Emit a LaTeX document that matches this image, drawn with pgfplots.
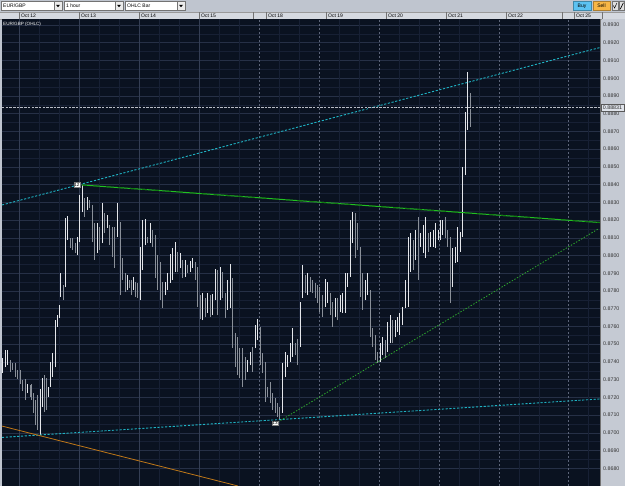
\documentclass[border=0pt]{standalone}
\usepackage{pgfplots}
\pgfplotsset{compat=1.18}
\usepackage{pgfplotstable}
\usepackage{fontspec}
\setmainfont{Liberation Sans}
\definecolor{plotbg}{HTML}{0A1220}
\definecolor{gridmaj}{HTML}{263046}
\definecolor{gridmin}{HTML}{172034}
\definecolor{gridday}{HTML}{343E54}
\definecolor{griddash}{HTML}{5C6478}
\definecolor{toolbg}{HTML}{BFC5CF}
\definecolor{headbg}{HTML}{D5D9E0}
\definecolor{panelbg}{HTML}{C5CAD3}
\definecolor{barup}{HTML}{E4E6EA}
\definecolor{bardn}{HTML}{8A9099}
\definecolor{cyanl}{HTML}{1FB3C4}
\definecolor{greenl}{HTML}{22C022}
\definecolor{greend}{HTML}{127A12}
\definecolor{greendot}{HTML}{2EA82E}
\definecolor{orangel}{HTML}{C07818}
\definecolor{pricel}{HTML}{B8BCC6}
\definecolor{buyc}{HTML}{5CC2F2}
\definecolor{sellc}{HTML}{F7B646}
\definecolor{pboxc}{HTML}{DFE3EA}
\newcommand\uif{\fontsize{5}{6}\selectfont}
\newcommand\pricef{\fontsize{5.3}{6}\selectfont}

% OHLC bars: x position, high, low (rising bars)
\pgfplotstableread{
x H L
2.7 0.87422 0.87337
5.7 0.87467 0.87371
7.3 0.87467 0.87382
27.3 0.87275 0.87224
40 0.87247 0.86988
42.3 0.87309 0.87146
48.7 0.87258 0.87202
50.7 0.87399 0.87258
52.7 0.87450 0.87315
55 0.87636 0.87371
57.3 0.87664 0.87597
59.3 0.87721 0.87647
60.7 0.87901 0.87766
65.3 0.88211 0.87822
67.7 0.88223 0.88087
77.3 0.88104 0.88003
79.8 0.88341 0.88076
82.3 0.88398 0.88245
87 0.88330 0.88257
97.3 0.88183 0.88014
102.3 0.88296 0.88070
107 0.88228 0.88155
117 0.88296 0.88104
127.3 0.87890 0.87805
133.5 0.87879 0.87805
140 0.88048 0.87749
142.7 0.88200 0.87918
145.3 0.88206 0.88059
150 0.88183 0.88070
165 0.87851 0.87777
167.3 0.87901 0.87805
170 0.88008 0.87845
172.3 0.88042 0.87862
175 0.88076 0.87907
180 0.88014 0.87929
185 0.87975 0.87879
190 0.87969 0.87907
192.3 0.87986 0.87929
202.3 0.87788 0.87636
207.3 0.87788 0.87676
212.3 0.87783 0.87664
215 0.87924 0.87749
220 0.87935 0.87749
227.3 0.87862 0.87693
230 0.87952 0.87704
247.3 0.87411 0.87343
250 0.87456 0.87382
255 0.87608 0.87478
257.3 0.87642 0.87523
282.3 0.87394 0.87112
285 0.87456 0.87315
287.3 0.87439 0.87371
290 0.87506 0.87399
292.3 0.87591 0.87428
300 0.87738 0.87484
302.3 0.87946 0.87760
307.3 0.87901 0.87777
325 0.87867 0.87710
327.3 0.87851 0.87732
335 0.87760 0.87653
340 0.87777 0.87681
342.3 0.87788 0.87676
345 0.87901 0.87676
347.3 0.87901 0.87822
350 0.88200 0.87879
352.3 0.88245 0.88070
365 0.87862 0.87749
367.3 0.87901 0.87777
380 0.87506 0.87399
382.3 0.87540 0.87439
387.3 0.87625 0.87456
390 0.87664 0.87506
395 0.87636 0.87540
397.3 0.87653 0.87569
399.7 0.87676 0.87552
402.5 0.87710 0.87608
405.3 0.87862 0.87704
408 0.88104 0.87710
410.7 0.88127 0.87907
415.7 0.88144 0.87975
420.7 0.88127 0.88048
423.3 0.88172 0.88014
425.7 0.88217 0.87986
430.7 0.88133 0.88048
433.3 0.88144 0.88048
435.7 0.88183 0.88042
438.3 0.88144 0.88087
440.5 0.88200 0.88087
442.7 0.88200 0.88116
452.3 0.88042 0.87822
455 0.88048 0.87958
457.3 0.88161 0.87963
460 0.88133 0.88020
462.5 0.88499 0.88104
465 0.88809 0.88454
467.7 0.89035 0.88708
}\barsup

% OHLC bars: x position, high, low (falling bars)
\pgfplotstableread{
x H L
10.7 0.87411 0.87343
12.7 0.87394 0.87354
15 0.87394 0.87315
17.3 0.87354 0.87303
20.7 0.87354 0.87275
22.7 0.87298 0.87236
25 0.87303 0.87185
30 0.87270 0.87202
31.7 0.87275 0.87185
33.3 0.87224 0.87112
35.7 0.87185 0.87044
37.3 0.87213 0.87016
44.3 0.87326 0.87117
46.7 0.87309 0.87129
63 0.87834 0.87749
70 0.88099 0.88042
72.3 0.88099 0.88031
75 0.88070 0.88014
84.8 0.88324 0.88217
89.5 0.88313 0.88268
92.3 0.88285 0.88076
94.7 0.88183 0.87975
99.7 0.88161 0.88031
104.7 0.88240 0.88127
109.7 0.88172 0.88059
112 0.88161 0.87992
114.3 0.88161 0.87929
120 0.88189 0.87777
122.7 0.87986 0.87862
125 0.87901 0.87794
129.5 0.87862 0.87817
131.5 0.87862 0.87777
135.5 0.87851 0.87766
137.7 0.87845 0.87760
147.5 0.88104 0.88070
152.3 0.88144 0.88048
155 0.88116 0.87873
157.7 0.88003 0.87805
160.3 0.87963 0.87749
162.7 0.87851 0.87704
177.3 0.88020 0.87907
182.3 0.87975 0.87873
187.3 0.87946 0.87901
195 0.87963 0.87862
197.3 0.87935 0.87710
200 0.87777 0.87642
205 0.87760 0.87653
210 0.87777 0.87653
217.3 0.87918 0.87664
222.3 0.87907 0.87760
225 0.87788 0.87647
232.3 0.87873 0.87478
235 0.87563 0.87371
237.3 0.87540 0.87326
239.7 0.87478 0.87309
242.2 0.87478 0.87258
245 0.87428 0.87298
252.3 0.87484 0.87343
260 0.87597 0.87382
262.3 0.87450 0.87337
265 0.87399 0.87174
267.3 0.87258 0.87202
270 0.87287 0.87168
272.3 0.87224 0.87129
275 0.87196 0.87112
277.3 0.87168 0.87089
279.5 0.87146 0.87072
295 0.87506 0.87439
297.3 0.87529 0.87382
305 0.87890 0.87788
310 0.87879 0.87794
312.3 0.87862 0.87788
315 0.87845 0.87760
317.3 0.87834 0.87732
319.7 0.87822 0.87681
322.3 0.87777 0.87653
330 0.87788 0.87664
332.3 0.87738 0.87597
337.3 0.87760 0.87636
355 0.88240 0.87986
357.3 0.88183 0.88031
360 0.88048 0.87766
362.3 0.87901 0.87693
370 0.87805 0.87540
372.3 0.87591 0.87484
375 0.87552 0.87411
377.3 0.87456 0.87394
385 0.87523 0.87422
392.3 0.87636 0.87506
413.3 0.88087 0.87918
418.3 0.88217 0.87862
428.3 0.88127 0.88020
445 0.88217 0.88099
447.3 0.88144 0.88048
450 0.88104 0.87732
470.2 0.88916 0.88725
}\barsdn

\begin{document}
\begin{tikzpicture}[x=1pt,y=1pt]
\useasboundingbox (0,0) rectangle (625,486);
% frame
\fill[toolbg] (0,474) rectangle (625,486);
\fill[headbg] (0,467) rectangle (625,474);
\fill[panelbg] (600,0) rectangle (625,467);
\fill[toolbg] (0,0) rectangle (2,467);
\draw[gray!80, line width=0.4pt] (0,474) -- (625,474);
\draw[gray!80, line width=0.4pt] (0,467) -- (602,467);
\foreach \xx in {19,79,139,199,253,266,326,386,446,506,562,574,602}
  \draw[gray!90!black, line width=0.4pt] (\xx,467) -- (\xx,474);

\begin{axis}[
  at={(2pt,0pt)}, anchor=south west,
  width=598pt, height=467pt, scale only axis,
  xmin=2, xmax=600, ymin=0.8670, ymax=0.89334,
  axis background/.style={fill=plotbg},
  axis line style={draw=none},
  major tick length=0pt, minor tick length=0pt,
  xtick={19,79,139,199,266,326,386,446,506,574},
  xticklabels={Oct 12,Oct 13,Oct 14,Oct 15,Oct 18,Oct 19,Oct 20,Oct 21,Oct 22,Oct 25},
  xticklabel pos=upper,
  xticklabel style={anchor=south west, inner sep=0pt, xshift=2pt, yshift=1.4pt, font=\uif, text=black},
  ytick={0.868,0.869,0.870,0.871,0.872,0.873,0.874,0.875,0.876,0.877,0.878,0.879,0.880,0.881,0.882,0.883,0.884,0.885,0.886,0.887,0.888,0.889,0.890,0.891,0.892,0.893},
  yticklabel pos=right,
  yticklabel style={anchor=west, inner sep=0pt, xshift=3pt, font=\pricef, text=black!80,
    /pgf/number format/fixed, /pgf/number format/fixed zerofill, /pgf/number format/precision=4},
  scaled y ticks=false,
  /pgf/number format/assume math mode=true,
  ymajorgrids, yminorgrids, minor y tick num=1,
  major grid style={gridmaj, line width=0.5pt},
  minor grid style={gridmin, line width=0.4pt},
]
% vertical grid
\pgfplotsinvokeforeach{39.3,59.3,99.3,119.3,159.3,179.3,219.3,239.3,279.3,299.3,339.3,359.3,399.3,419.3,459.3,479.3,519.3,539.3,588}{
  \draw[gridmin, line width=0.4pt] (axis cs:#1,0.8670) -- (axis cs:#1,0.89334);
}
\pgfplotsinvokeforeach{19.3,79.3,139.3,199.3}{
  \draw[gridday, line width=0.6pt] (axis cs:#1,0.8670) -- (axis cs:#1,0.89334);
}
\pgfplotsinvokeforeach{259.3,319.3,379.3,439.3,499.3,568}{
  \draw[griddash, line width=0.6pt, dash pattern=on 2pt off 2pt] (axis cs:#1,0.8670) -- (axis cs:#1,0.89334);
}
% bars
\addplot[draw=none, mark=none, forget plot,
  error bars/.cd, y dir=plus, y explicit, error mark=none,
  error bar style={draw=bardn, line width=0.85pt}]
  table[x=x, y=L, y error expr=\thisrow{H}-\thisrow{L}] {\barsdn};
\addplot[draw=none, mark=none, forget plot,
  error bars/.cd, y dir=plus, y explicit, error mark=none,
  error bar style={draw=barup, line width=0.85pt}]
  table[x=x, y=L, y error expr=\thisrow{H}-\thisrow{L}] {\barsup};
% trend lines
\addplot[cyanl, line width=0.9pt, dash pattern=on 2.2pt off 1.6pt] coordinates {(2,0.88285) (600,0.89173)};
\addplot[cyanl, line width=0.9pt, dash pattern=on 2.2pt off 1.6pt] coordinates {(2,0.86974) (600,0.87191)};
\addplot[greenl, line width=1pt] coordinates {(82,0.88398) (600,0.88186)};
\addplot[greend, line width=1pt, dash pattern=on 5pt off 7pt] coordinates {(82,0.88398) (600,0.88186)};
\addplot[greendot, line width=0.8pt, dash pattern=on 1.4pt off 1.6pt] coordinates {(278,0.87061) (598,0.88149)};
\addplot[orangel, line width=0.8pt] coordinates {(2,0.87038) (238,0.8670)};
\addplot[draw=pricel, double=plotbg, double distance=0.8pt, line width=0.35pt, dash pattern=on 2.5pt off 1.2pt] coordinates {(2,0.88831) (600,0.88831)};
% labels in plot
\node[anchor=north west, inner sep=0pt, font=\fontsize{4.6}{5}\selectfont, text=white, yshift=-2.5pt] at (axis cs:3,0.89334) {EUR/GBP (OHLC)};
\node[fill=white, draw=gray, inner sep=0.7pt, font=\fontsize{4.6}{5}\selectfont, text=black] at (axis cs:77,0.88399) {12};
\node[fill=white, draw=gray, inner sep=0.7pt, font=\fontsize{4.6}{5}\selectfont, text=black] at (axis cs:275,0.87055) {13};
\end{axis}
% panel border and price box
\draw[gray!90!black, line width=0.4pt] (600,0) -- (600,467);
\node[fill=pboxc, draw=black!65, line width=0.4pt, minimum width=23.5pt, minimum height=7pt, inner sep=0pt, font=\pricef, text=black!85] at (612.5,378) {0.88831};
% toolbar
\draw[fill=white, draw=gray!90!black, line width=0.4pt] (1,475.3) rectangle (62,484.7);
\node[anchor=west, inner sep=0pt, font=\uif] at (3,480) {EUR/GBP};
\draw[fill=gray!15, draw=gray!90!black, line width=0.4pt] (54,475.3) rectangle (62,484.7);
\fill (56,481.2) -- (60,481.2) -- (58,478.8) -- cycle;
\draw[fill=white, draw=gray!90!black, line width=0.4pt] (64,475.3) rectangle (123,484.7);
\node[anchor=west, inner sep=0pt, font=\uif] at (66,480) {1 hour};
\draw[fill=gray!15, draw=gray!90!black, line width=0.4pt] (115,475.3) rectangle (123,484.7);
\fill (117,481.2) -- (121,481.2) -- (119,478.8) -- cycle;
\draw[fill=white, draw=gray!90!black, line width=0.4pt] (125,475.3) rectangle (185,484.7);
\node[anchor=west, inner sep=0pt, font=\uif] at (127,480) {OHLC Bar};
\draw[fill=gray!15, draw=gray!90!black, line width=0.4pt] (177,475.3) rectangle (185,484.7);
\fill (179,481.2) -- (183,481.2) -- (181,478.8) -- cycle;
\draw[fill=buyc, draw=buyc!70!black, line width=0.4pt] (573,475.3) rectangle (591,484.7);
\node[inner sep=0pt, font=\uif] at (582,480) {Buy};
\draw[fill=sellc, draw=sellc!70!black, line width=0.4pt] (593,475.3) rectangle (610,484.7);
\node[inner sep=0pt, font=\uif] at (601.5,480) {Sell};
\draw[fill=gray!25, draw=gray!90!black, line width=0.4pt] (612,475.3) rectangle (618.2,484.7);
\draw[line width=0.5pt] (613.3,480.5) -- (614.6,478) -- (616.9,483);
\draw[fill=gray!25, draw=gray!90!black, line width=0.4pt] (619,475.3) rectangle (624.6,484.7);
\draw[line width=0.6pt] (620.2,476.8) -- (623.4,483.2);
\end{tikzpicture}
\end{document}
